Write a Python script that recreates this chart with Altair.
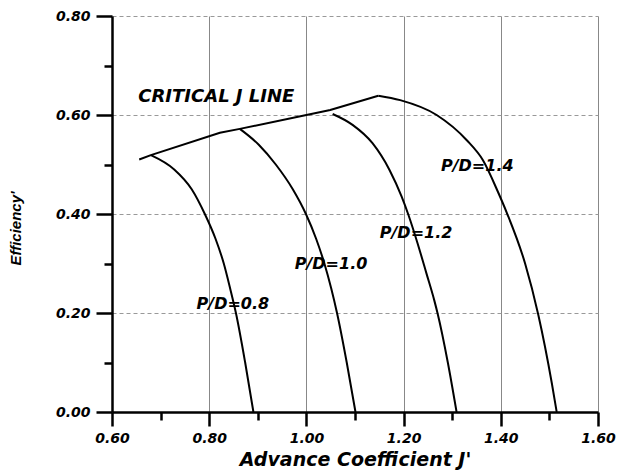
import altair as alt
import pandas as pd

# Efficiency' vs advance coefficient J' for four pitch ratios
pd08_j = [0.680, 0.728, 0.764, 0.791, 0.813, 0.830, 0.843, 0.855, 0.874, 0.891]
pd08_eta = [0.519, 0.490, 0.450, 0.400, 0.350, 0.300, 0.250, 0.200, 0.100, 0.000]

pd10_j = [0.863, 0.902, 0.937, 0.972, 0.999, 1.020, 1.037, 1.051, 1.063, 1.083, 1.101]
pd10_eta = [0.572, 0.540, 0.500, 0.450, 0.400, 0.350, 0.300, 0.250, 0.200, 0.100, 0.000]

pd12_j = [1.054, 1.095, 1.136, 1.171, 1.196, 1.210, 1.229, 1.247, 1.263, 1.270, 1.291, 1.309]
pd12_eta = [0.602, 0.580, 0.543, 0.489, 0.435, 0.398, 0.340, 0.280, 0.226, 0.199, 0.100, 0.000]

pd14_j = [1.148, 1.193, 1.268, 1.330, 1.363, 1.394, 1.413, 1.450, 1.477, 1.505, 1.515]
pd14_eta = [0.639, 0.630, 0.600, 0.549, 0.509, 0.445, 0.401, 0.300, 0.197, 0.058, 0.000]

# Critical J line joining the curve peaks
crit_j = [0.656, 0.680, 0.822, 0.863, 1.000, 1.049, 1.148]
crit_eta = [0.510, 0.519, 0.564, 0.572, 0.600, 0.610, 0.639]

# Annotations (left edge, vertical centre)
label_text = ["CRITICAL J LINE", "P/D=1.4", "P/D=1.2", "P/D=1.0", "P/D=0.8"]
label_j = [0.654, 1.277, 1.151, 0.976, 0.774]
label_eta = [0.636, 0.497, 0.362, 0.300, 0.218]
label_size = [18, 16, 16, 16, 16]

# Tick positions every 0.1; labels and grid on every other one
x_ticks = [0.6, 0.7, 0.8, 0.9, 1.0, 1.1, 1.2, 1.3, 1.4, 1.5, 1.6]
y_ticks = [0.0, 0.1, 0.2, 0.3, 0.4, 0.5, 0.6, 0.7, 0.8]

rows = []
for name, js, es in [("0.8", pd08_j, pd08_eta), ("1.0", pd10_j, pd10_eta),
                     ("1.2", pd12_j, pd12_eta), ("1.4", pd14_j, pd14_eta)]:
    for i, (j, e) in enumerate(zip(js, es)):
        rows.append({"pd": name, "i": i, "J": j, "eta": e})
curves_df = pd.DataFrame(rows)
crit_df = pd.DataFrame({"J": crit_j, "eta": crit_eta, "i": list(range(len(crit_j)))})
labels_df = pd.DataFrame({"text": label_text, "J": label_j, "eta": label_eta, "size": label_size})

FONT = "DejaVu Sans"
MAJOR = "round(datum.value * 10) % 2 == 0"
x_scale = alt.Scale(domain=[0.6, 1.6], nice=False, zero=False)
y_scale = alt.Scale(domain=[0.0, 0.8], nice=False, zero=False)


def cond(major, minor):
    return {"condition": {"test": MAJOR, "value": major}, "value": minor}


label_expr = f"{MAJOR} ? format(datum.value, '.2f') : ''"

curves = alt.Chart(curves_df).mark_line(
    color="black", strokeWidth=2, interpolate="monotone"
).encode(
    x=alt.X("J:Q", scale=x_scale, axis=alt.Axis(
        values=x_ticks, labelExpr=label_expr, orient="bottom",
        tickSize=cond(14, 8), tickWidth=2.5, tickColor="black",
        domainWidth=2.5, domainColor="black",
        labelFont=FONT, labelFontSize=14, labelFontWeight="bold", labelFontStyle="italic",
        labelColor="black", labelPadding=5, labelFlush=False, labelOverlap=False,
        grid=True, gridColor="#888888", gridWidth=1, gridOpacity=cond(1, 0),
        title="Advance Coefficient J'", titleFont=FONT, titleFontSize=19,
        titleFontWeight="bold", titleFontStyle="italic", titleColor="black",
        titleY=53, titleBaseline="alphabetic",
    )),
    y=alt.Y("eta:Q", scale=y_scale, axis=alt.Axis(
        values=y_ticks, labelExpr=label_expr, orient="left",
        tickSize=cond(16, 8), tickWidth=2.5, tickColor="black",
        domainWidth=2.5, domainColor="black",
        labelFont=FONT, labelFontSize=14, labelFontWeight="bold", labelFontStyle="italic",
        labelColor="black", labelPadding=6, labelFlush=False, labelOverlap=False,
        grid=True, gridColor="#999999", gridWidth=1, gridDash=[4, 3],
        gridOpacity=cond(1, 0),
        title="Efficiency'", titleFont="Liberation Sans", titleFontSize=15,
        titleFontWeight="bold", titleFontStyle="italic", titleColor="black",
        titleX=-97, titleY=212, titleBaseline="middle", titleAngle=-90,
    )),
    detail="pd:N",
    order="i:Q",
)

critical = alt.Chart(crit_df).mark_line(color="black", strokeWidth=2).encode(
    x=alt.X("J:Q", scale=x_scale),
    y=alt.Y("eta:Q", scale=y_scale),
    order="i:Q",
)

labels = alt.Chart(labels_df).mark_text(
    align="left", baseline="middle", font=FONT, fontWeight="bold",
    fontStyle="italic", color="black",
).encode(
    x=alt.X("J:Q", scale=x_scale),
    y=alt.Y("eta:Q", scale=y_scale),
    text="text:N",
    size=alt.Size("size:Q", scale=None),
)

chart = alt.layer(curves, critical, labels).properties(
    width=486, height=396,
    padding={"left": 112, "top": 16, "right": 21, "bottom": 58},
    autosize=alt.AutoSizeParams(type="none"),
).configure_view(strokeWidth=0)

chart.save("out.html", embed_options={"renderer": "svg", "actions": False})
